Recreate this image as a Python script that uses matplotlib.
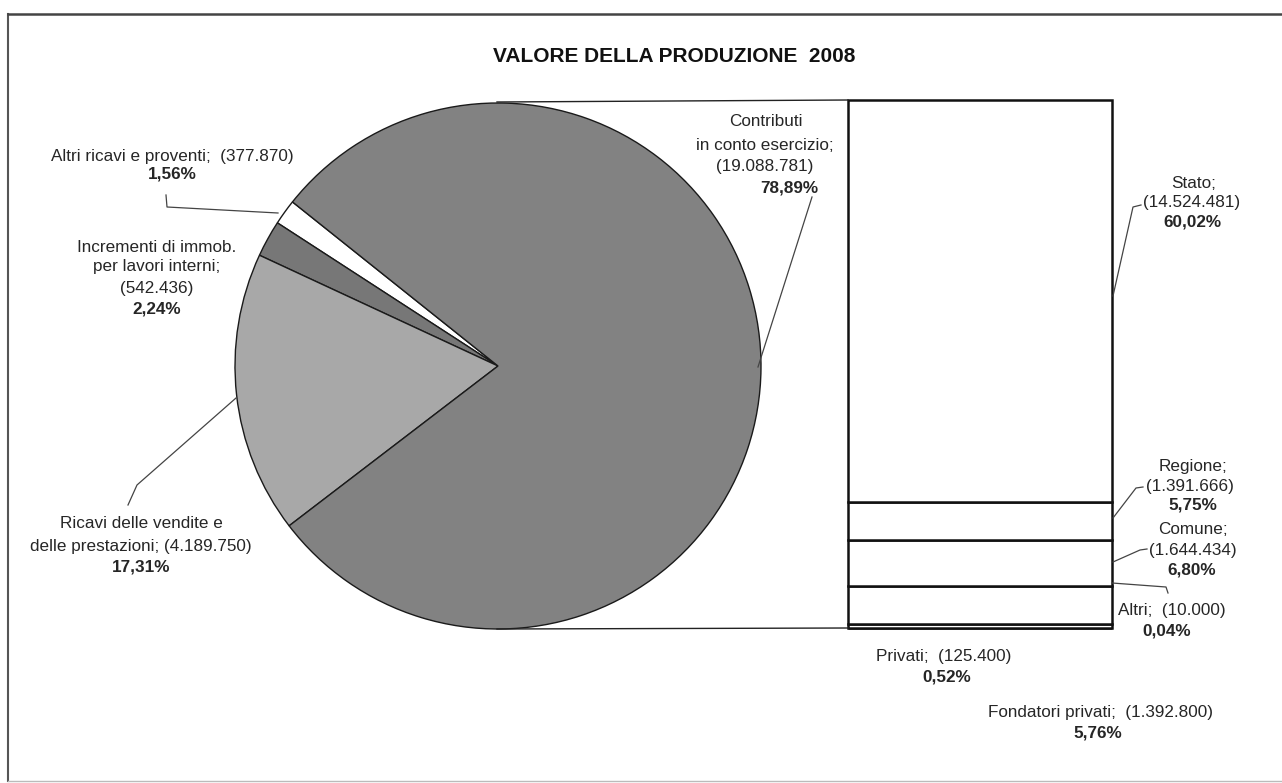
import numpy as np
import matplotlib
matplotlib.use("Agg")
import matplotlib.pyplot as plt

plt.rcParams['font.family'] = ['Liberation Sans', 'DejaVu Sans']

W, H = 1282, 783

# pie: main revenue items (order drawn counter-clockwise from the start angle)
pie_names = ["Altri ricavi e proventi", "Incrementi di immob. per lavori interni",
             "Ricavi delle vendite e delle prestazioni", "Contributi in conto esercizio"]
pie_values = [377870, 542436, 4189750, 19088781]
pie_pct = ["1,56%", "2,24%", "17,31%", "78,89%"]
pie_colors = ["#ffffff", "#777777", "#a8a8a8", "#828282"]

# bar: breakdown of "Contributi in conto esercizio" (bottom to top)
bar_names = ["Altri", "Privati", "Fondatori privati", "Comune", "Regione", "Stato"]
bar_values = [10000, 125400, 1392800, 1644434, 1391666, 14524481]
bar_pct = ["0,04%", "0,52%", "5,76%", "6,80%", "5,75%", "60,02%"]


def fmt(v):
    return "{:,}".format(v).replace(",", ".")


def px_axes(x, y, w, h):
    # rectangle given in image pixels (top-left origin)
    return fig.add_axes([x / W, (H - y - h) / H, w / W, h / H])


fig = plt.figure(figsize=(W / 100, H / 100), dpi=100)

# pie
cx, cy, r = 498, 366, 263
axp = px_axes(cx - r, cy - r, 2 * r, 2 * r)
axp.pie(pie_values, colors=pie_colors, startangle=141.4, counterclock=True,
        wedgeprops=dict(edgecolor="#1a1a1a", linewidth=1.0))
axp.set_xlim(-1, 1)
axp.set_ylim(-1, 1)
axp.axis("off")

# stacked bar
axb = px_axes(848, 100, 264, 528)
bottoms = np.concatenate([[0], np.cumsum(bar_values)[:-1]])
axb.bar(0, bar_values, bottom=bottoms, width=1, color="white",
        edgecolor="#111111", linewidth=1.8, clip_on=False)
axb.set_xlim(-0.5, 0.5)
axb.set_ylim(0, sum(bar_values))
axb.axis("off")

# overlay in pixel coordinates for text, leaders and frame
ax = fig.add_axes([0, 0, 1, 1], zorder=5)
ax.set_xlim(0, W)
ax.set_ylim(H, 0)
ax.axis("off")

ln = dict(color="#444444", lw=0.9)
ax.plot([8, 8], [14, 781], color="#555555", lw=1.5)
ax.plot([8, W], [14, 14], color="#444444", lw=1.8)
ax.plot([8, W], [781, 781], color="#bbbbbb", lw=1.0)

# lines joining pie and bar
ax.plot([497, 848], [102, 100], color="#222222", lw=1.0)
ax.plot([497, 848], [629, 628], color="#222222", lw=1.0)

ax.text(674, 57, "VALORE DELLA PRODUZIONE  2008", ha="center", va="center",
        fontsize=15, fontweight="bold", color="#111111")

tc = "#262626"
fs = 12.3


def lines(x, ys, texts, bold_last=True, xs=None):
    for i, (y, t) in enumerate(zip(ys, texts)):
        xx = xs[i] if xs else x
        bold = bold_last and i == len(texts) - 1
        ax.text(xx, y, t, ha="center", va="center", fontsize=fs, color=tc,
                fontweight="bold" if bold else "normal")


# pie labels
lines(None, [121, 145, 166, 188],
      ["Contributi", "in conto esercizio;", "(" + fmt(pie_values[3]) + ")", pie_pct[3]],
      xs=[766, 765, 765, 789])
ax.plot([812, 758], [197, 367], **ln)

lines(172, [156, 174], ["Altri ricavi e proventi;  (" + fmt(pie_values[0]) + ")", pie_pct[0]])
ax.plot([166, 167, 278], [195, 207, 213], **ln)

lines(157, [247, 267, 288, 309],
      ["Incrementi di immob.", "per lavori interni;", "(" + fmt(pie_values[1]) + ")", pie_pct[1]])

lines(141, [524, 546, 567],
      ["Ricavi delle vendite e", "delle prestazioni; (" + fmt(pie_values[2]) + ")", pie_pct[2]])
ax.plot([236, 137, 128], [398, 485, 505], **ln)

# bar labels
lines(None, [183, 203, 222], ["Stato;", "(" + fmt(bar_values[5]) + ")", bar_pct[5]],
      xs=[1194, 1192, 1192])
ax.plot([1113, 1133, 1141], [296, 207, 205], **ln)

lines(None, [466, 486, 505], ["Regione;", "(" + fmt(bar_values[4]) + ")", bar_pct[4]],
      xs=[1193, 1190, 1193])
ax.plot([1113, 1136, 1143], [518, 488, 487], **ln)

lines(None, [529, 550, 570], ["Comune;", "(" + fmt(bar_values[3]) + ")", bar_pct[3]],
      xs=[1193, 1193, 1192])
ax.plot([1113, 1140, 1147], [562, 550, 549], **ln)

lines(None, [611, 631], ["Altri;  (" + fmt(bar_values[0]) + ")", bar_pct[0]], xs=[1172, 1167])
ax.plot([1112, 1166, 1168], [583, 587, 593], **ln)

lines(None, [656, 677], ["Privati;  (" + fmt(bar_values[1]) + ")", bar_pct[1]], xs=[944, 947])
lines(None, [712, 733], ["Fondatori privati;  (" + fmt(bar_values[2]) + ")", bar_pct[2]],
      xs=[1100, 1098])

fig.savefig("out.png", dpi=100, facecolor="white")
